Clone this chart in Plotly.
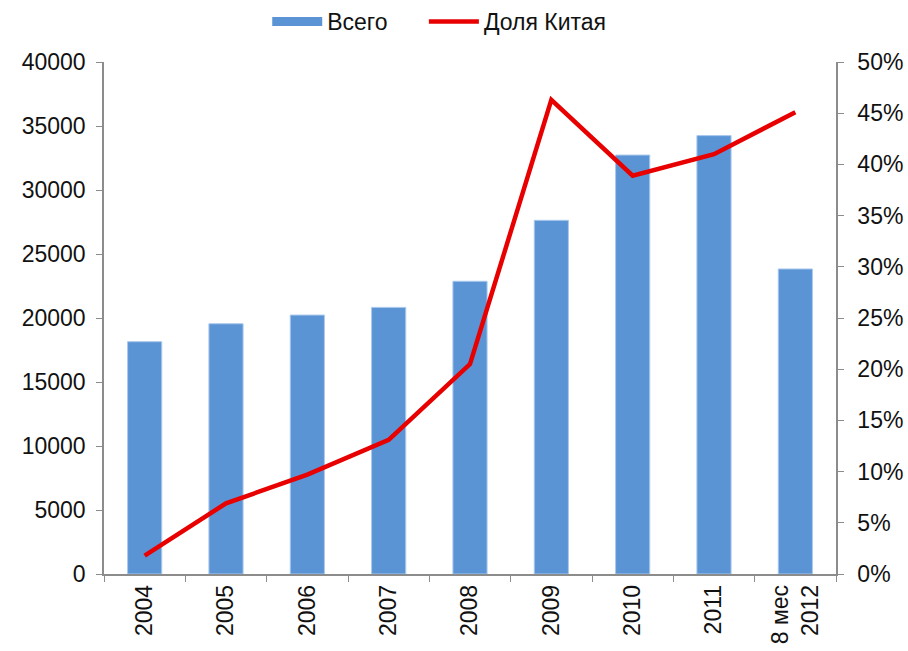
import plotly.graph_objects as go

categories = ["2004", "2005", "2006", "2007", "2008", "2009", "2010", "2011", "8 мес<br>2012"]
total = [18150, 19550, 20230, 20830, 22870, 27630, 32730, 34250, 23830]
china_share = [0.018, 0.069, 0.097, 0.131, 0.205, 0.463, 0.389, 0.410, 0.451]

FONT = "Liberation Sans, Arial, sans-serif"
BLUE = "#5B94D5"
RED = "#E80000"
AX = "#8C8C8C"
FS = 23

fig = go.Figure()
fig.add_trace(go.Bar(
    x=categories, y=total, name="Всего", showlegend=False,
    marker=dict(color=BLUE, line=dict(color="#A9C8EC", width=1)),
    yaxis="y",
))
# legend entry for the bars, drawn as a wide blue swatch
fig.add_trace(go.Scatter(
    x=[None], y=[None], name="Всего", mode="lines",
    line=dict(color=BLUE, width=9), yaxis="y", legend="legend",
))
fig.add_trace(go.Scatter(
    x=categories, y=china_share, name="Доля Китая", mode="lines",
    line=dict(color=RED, width=4.5),
    yaxis="y2", legend="legend2",
))

leg_common = dict(orientation="h", xref="paper", xanchor="left",
                  yref="container", y=1.0, yanchor="top",
                  font=dict(size=FS), itemwidth=50, bgcolor="rgba(0,0,0,0)")

fig.update_layout(
    width=908, height=651,
    margin=dict(l=104, r=72, t=62, b=77),
    paper_bgcolor="white", plot_bgcolor="white",
    font=dict(family=FONT, size=FS, color="#111"),
    bargap=0.58,
    showlegend=True,
    legend=dict(x=0.223, **leg_common),
    legend2=dict(x=0.437, **leg_common),
    xaxis=dict(
        type="category", tickangle=-90, showgrid=False, automargin=False,
        showline=True, linecolor=AX, linewidth=1.5,
        ticks="outside", tickson="boundaries", ticklen=6, tickcolor=AX,
        tickfont=dict(size=FS),
    ),
    yaxis=dict(
        range=[0, 40000], dtick=5000, showgrid=False, zeroline=False, automargin=False,
        showline=True, linecolor=AX, linewidth=1.5,
        ticks="outside", ticklen=6, tickcolor=AX, ticklabelstandoff=6,
        tickformat="d", tickfont=dict(size=FS),
    ),
    yaxis2=dict(
        range=[0, 0.5], dtick=0.05, overlaying="y", side="right", automargin=False,
        showgrid=False, zeroline=False,
        showline=True, linecolor=AX, linewidth=1.5,
        ticks="outside", ticklen=6, tickcolor=AX, ticklabelstandoff=9,
        tickformat=".0%", tickfont=dict(size=FS),
    ),
)

fig.write_html("out.html", config={"displayModeBar": False},
               post_script="document.body.style.margin='0';")
